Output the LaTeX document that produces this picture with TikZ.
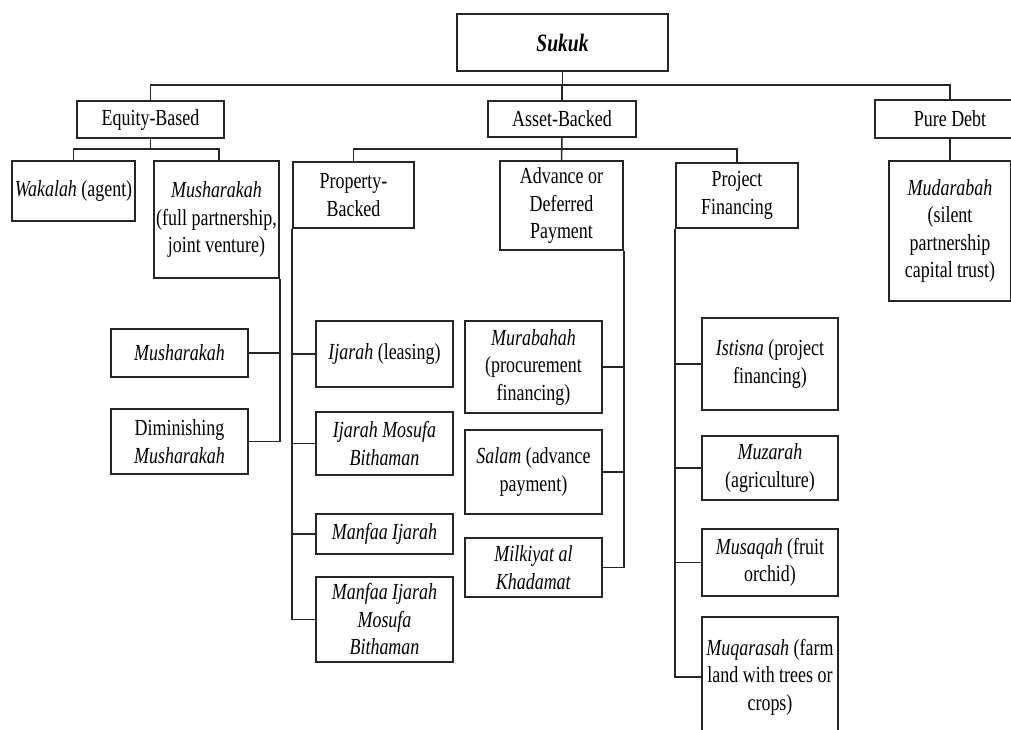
\documentclass[tikz,border=0pt]{standalone}
\usepackage{fontspec}
\setmainfont{Liberation Serif}[FakeStretch=0.78]
\begin{document}
\begin{tikzpicture}[x=1pt,y=-1pt,
  box/.style={draw=black!85,line width=1.7pt,fill=white,inner sep=0pt,align=center,
    font=\fontsize{23}{27.5}\selectfont},
  conn/.style={draw=black!85,line width=1.5pt}]
\useasboundingbox (0,0) rectangle (1011,729);
\clip (0,0) rectangle (1011,729);
% level 0
\node[box,minimum width=211,minimum height=57,font=\fontsize{25}{28}\selectfont] (sukuk) at (562.5,42.5) {\textbf{\textit{Sukuk}}};
% level 1
\node[box,minimum width=147,minimum height=37] (equity) at (150.5,119.5) {Equity-Based};
\node[box,minimum width=148,minimum height=36] (asset) at (562,119) {Asset-Backed};
\node[box,minimum width=150,minimum height=38] (pure) at (950,119) {Pure Debt};
% level 2
\node[box,minimum width=123,minimum height=60] (wakalah) at (73.5,191) {\textit{Wakalah} (agent)};
\node[box,minimum width=125,minimum height=117] (mushfull) at (216.5,219.5) {\textit{Musharakah}\\(full partnership,\\joint venture)};
\node[box,minimum width=121,minimum height=66] (property) at (353.5,195) {Property-\\Backed};
\node[box,minimum width=123,minimum height=89] (advance) at (561.5,205.5) {Advance or\\Deferred\\Payment};
\node[box,minimum width=122,minimum height=65] (project) at (737,195.5) {Project\\Financing};
\node[box,minimum width=122,minimum height=140] (mudarabah) at (950,231) {\textit{Mudarabah}\\(silent\\partnership\\capital trust)};
% equity children
\node[box,minimum width=137,minimum height=48] (mush2) at (179.5,353) {\textit{Musharakah}};
\node[box,minimum width=137,minimum height=65] (dimin) at (179.5,441.5) {Diminishing\\\textit{Musharakah}};
% property children
\node[box,minimum width=137,minimum height=66] (ijarah) at (384.5,354) {\textit{Ijarah} (leasing)};
\node[box,minimum width=137,minimum height=63] (ijmb) at (384.5,443.5) {\textit{Ijarah Mosufa}\\\textit{Bithaman}};
\node[box,minimum width=137,minimum height=40] (manfaa) at (384.5,534) {\textit{Manfaa Ijarah}};
\node[box,minimum width=137,minimum height=85] (manfaamb) at (384.5,619.5) {\textit{Manfaa Ijarah}\\\textit{Mosufa}\\\textit{Bithaman}};
% advance children
\node[box,minimum width=137,minimum height=92] (murabahah) at (533.5,367) {\textit{Murabahah}\\(procurement\\financing)};
\node[box,minimum width=137,minimum height=84] (salam) at (533.5,472) {\textit{Salam} (advance\\payment)};
\node[box,minimum width=137,minimum height=59] (milkiyat) at (533.5,567.5) {\textit{Milkiyat al}\\\textit{Khadamat}};
% project children
\node[box,minimum width=136,minimum height=92] (istisna) at (770,364) {\textit{Istisna} (project\\financing)};
\node[box,minimum width=136,minimum height=64] (muzarah) at (770,468) {\textit{Muzarah}\\(agriculture)};
\node[box,minimum width=136,minimum height=67] (musaqah) at (770,562.5) {\textit{Musaqah} (fruit\\orchid)};
\node[box,minimum width=136,minimum height=120] (muqarasah) at (770,677) {\textit{Muqarasah} (farm\\land with trees or\\crops)};
% bars
\coordinate (bar1) at (0,85);
\coordinate (bar2) at (0,149);
% connectors
\draw[conn] (sukuk.south) -- (sukuk.south |- bar1);
\draw[conn] (equity.north) |- (pure.north |- bar1) -- (pure.north);
\draw[conn] (asset.north) -- (asset.north |- bar1);
\draw[conn] (pure.south) -- (mudarabah.north);
\draw[conn] (equity.south) -- (equity.south |- bar2);
\draw[conn] (wakalah.north) |- ([xshift=2.5pt]mushfull.north |- bar2) -- ([xshift=2.5pt]mushfull.north);
\draw[conn] (asset.south) -- (advance.north);
\draw[conn] (property.north) |- (project.north |- bar2) -- (project.north);
% equity sub-branch
\draw[conn] (mushfull.south east) -- (mushfull.south east |- dimin.east) -- (dimin.east);
\draw[conn] (mush2.east) -- (mush2.east -| mushfull.east);
% property sub-branch
\draw[conn] (property.south west) -- (property.south west |- manfaamb.west) -- (manfaamb.west);
\draw[conn] (ijarah.west) -- (ijarah.west -| property.west);
\draw[conn] (ijmb.west) -- (ijmb.west -| property.west);
\draw[conn] (manfaa.west) -- (manfaa.west -| property.west);
% advance sub-branch
\draw[conn] (advance.south east) -- (advance.south east |- milkiyat.east) -- (milkiyat.east);
\draw[conn] (murabahah.east) -- (murabahah.east -| advance.east);
\draw[conn] (salam.east) -- (salam.east -| advance.east);
% project sub-branch
\draw[conn] (project.south west) -- (project.south west |- muqarasah.west) -- (muqarasah.west);
\draw[conn] (istisna.west) -- (istisna.west -| project.west);
\draw[conn] (muzarah.west) -- (muzarah.west -| project.west);
\draw[conn] (musaqah.west) -- (musaqah.west -| project.west);
\end{tikzpicture}
\end{document}
